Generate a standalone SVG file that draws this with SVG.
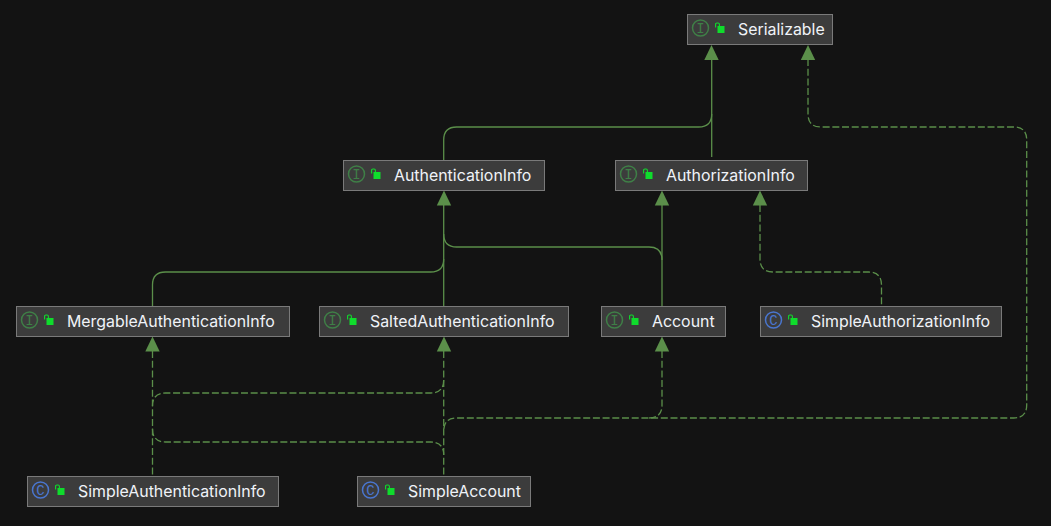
<svg xmlns="http://www.w3.org/2000/svg" width="1051" height="526" viewBox="0 0 1051 526">
<style>
.bg{fill:#131313}
.box{fill:#3c3c3c;stroke:#7a7a7a;stroke-width:1}
.t{font-family:Inter,"Liberation Sans",sans-serif;font-size:15.9px;fill:#f0f3f8}
.ci{fill:none;stroke:#3f7f47;stroke-width:1.5}
.ct{fill:none;stroke:#4a76cf;stroke-width:1.5}
.cl{font-family:"Liberation Mono",monospace;font-size:14px;text-anchor:middle}
.lf{fill:#0fdc2c}
.ls{fill:none;stroke:#0fdc2c;stroke-width:1.1}
.e{fill:none;stroke:#5b8f4a;stroke-width:1.3}
.d{stroke-dasharray:7 2.7}
.h{fill:#5b8f4a;stroke:none}
</style>
<defs>
<g id="lock"><rect class="lf" x="2.500" y="3" width="7" height="7"/><path class="ls" d="M0.600 4.500V1.400Q0.600 0 2 0H3Q4.400 0 4.400 1.400V3"/></g>
</defs>
<rect class="bg" width="1051" height="526"/>
<g id="connectors">
<path class="e" d="M711.700 59V114Q711.700 127 698.700 127H456.700Q443.700 127 443.700 140V160"/>
<path class="e" d="M711.700 114V157"/>
<path class="e d" d="M808 59V114Q808 127 821 127H1013.700Q1026.700 127 1026.700 140V405Q1026.700 418 1013.700 418H456.700Q443.700 418 443.700 431"/>
<path class="e" d="M443.700 205V259Q443.700 272 430.700 272H165.500Q152.500 272 152.500 285V306"/>
<path class="e" d="M443.700 259V306"/>
<path class="e" d="M443.700 234Q443.700 247 456.700 247H649Q662 247 662 260"/>
<path class="e" d="M662 205V306"/>
<path class="e d" d="M760 205V259Q760 272 773 272H868.500Q881.500 272 881.500 285V306"/>
<path class="e d" d="M152.500 351V476"/>
<path class="e d" d="M443.700 380Q443.700 393 430.700 393H165.500Q152.500 393 152.500 406"/>
<path class="e d" d="M152.500 429Q152.500 442 165.500 442H430.700Q443.700 442 443.700 455"/>
<path class="e d" d="M443.700 351V476"/>
<path class="e d" d="M662 351V405Q662 418 649 418"/>
<path class="h" d="M711.500 45L718.700 60H704.300Z"/>
<path class="h" d="M808 45L815.200 60H800.800Z"/>
<path class="h" d="M444 190.500L451.200 205.500H436.800Z"/>
<path class="h" d="M662 190.500L669.200 205.500H654.800Z"/>
<path class="h" d="M760 190.500L767.200 205.500H752.800Z"/>
<path class="h" d="M152.500 336.500L159.700 351.500H145.300Z"/>
<path class="h" d="M444 336.500L451.200 351.500H436.800Z"/>
<path class="h" d="M662 336.500L669.200 351.500H654.800Z"/>
</g>
<g id="serializable"><rect class="box" x="687.500" y="14.500" width="145" height="30"/><circle class="ci" cx="700.500" cy="28" r="8"/><text class="cl" x="700.500" y="32.500" fill="#3f7f47">I</text><use href="#lock" x="715" y="23"/><text class="t" x="738" y="35">Serializable</text></g>
<g id="authenticationinfo"><rect class="box" x="343.500" y="160.500" width="201" height="30"/><circle class="ci" cx="356.500" cy="174" r="8"/><text class="cl" x="356.500" y="178.500" fill="#3f7f47">I</text><use href="#lock" x="371" y="169"/><text class="t" x="394" y="181">AuthenticationInfo</text></g>
<g id="authorizationinfo"><rect class="box" x="615.500" y="160.500" width="192" height="30"/><circle class="ci" cx="628.500" cy="174" r="8"/><text class="cl" x="628.500" y="178.500" fill="#3f7f47">I</text><use href="#lock" x="643" y="169"/><text class="t" x="666" y="181">AuthorizationInfo</text></g>
<g id="mergableauthenticationinfo"><rect class="box" x="16.500" y="306.500" width="273" height="30"/><circle class="ci" cx="29.500" cy="320" r="8"/><text class="cl" x="29.500" y="324.500" fill="#3f7f47">I</text><use href="#lock" x="44" y="315"/><text class="t" x="67" y="327">MergableAuthenticationInfo</text></g>
<g id="saltedauthenticationinfo"><rect class="box" x="319.500" y="306.500" width="249" height="30"/><circle class="ci" cx="332.500" cy="320" r="8"/><text class="cl" x="332.500" y="324.500" fill="#3f7f47">I</text><use href="#lock" x="347" y="315"/><text class="t" x="370" y="327">SaltedAuthenticationInfo</text></g>
<g id="account"><rect class="box" x="601.500" y="306.500" width="124" height="30"/><circle class="ci" cx="614.500" cy="320" r="8"/><text class="cl" x="614.500" y="324.500" fill="#3f7f47">I</text><use href="#lock" x="629" y="315"/><text class="t" x="652" y="327">Account</text></g>
<g id="simpleauthorizationinfo"><rect class="box" x="760.500" y="306.500" width="241" height="30"/><circle class="ct" cx="773.500" cy="320" r="8"/><text class="cl" x="773.500" y="324.500" fill="#4a76cf">C</text><use href="#lock" x="788" y="315"/><text class="t" x="811" y="327">SimpleAuthorizationInfo</text></g>
<g id="simpleauthenticationinfo"><rect class="box" x="27.500" y="476.500" width="251" height="30"/><circle class="ct" cx="40.500" cy="490" r="8"/><text class="cl" x="40.500" y="494.500" fill="#4a76cf">C</text><use href="#lock" x="55" y="485"/><text class="t" x="78" y="497">SimpleAuthenticationInfo</text></g>
<g id="simpleaccount"><rect class="box" x="357.500" y="476.500" width="173" height="30"/><circle class="ct" cx="370.500" cy="490" r="8"/><text class="cl" x="370.500" y="494.500" fill="#4a76cf">C</text><use href="#lock" x="385" y="485"/><text class="t" x="408" y="497">SimpleAccount</text></g>
</svg>
